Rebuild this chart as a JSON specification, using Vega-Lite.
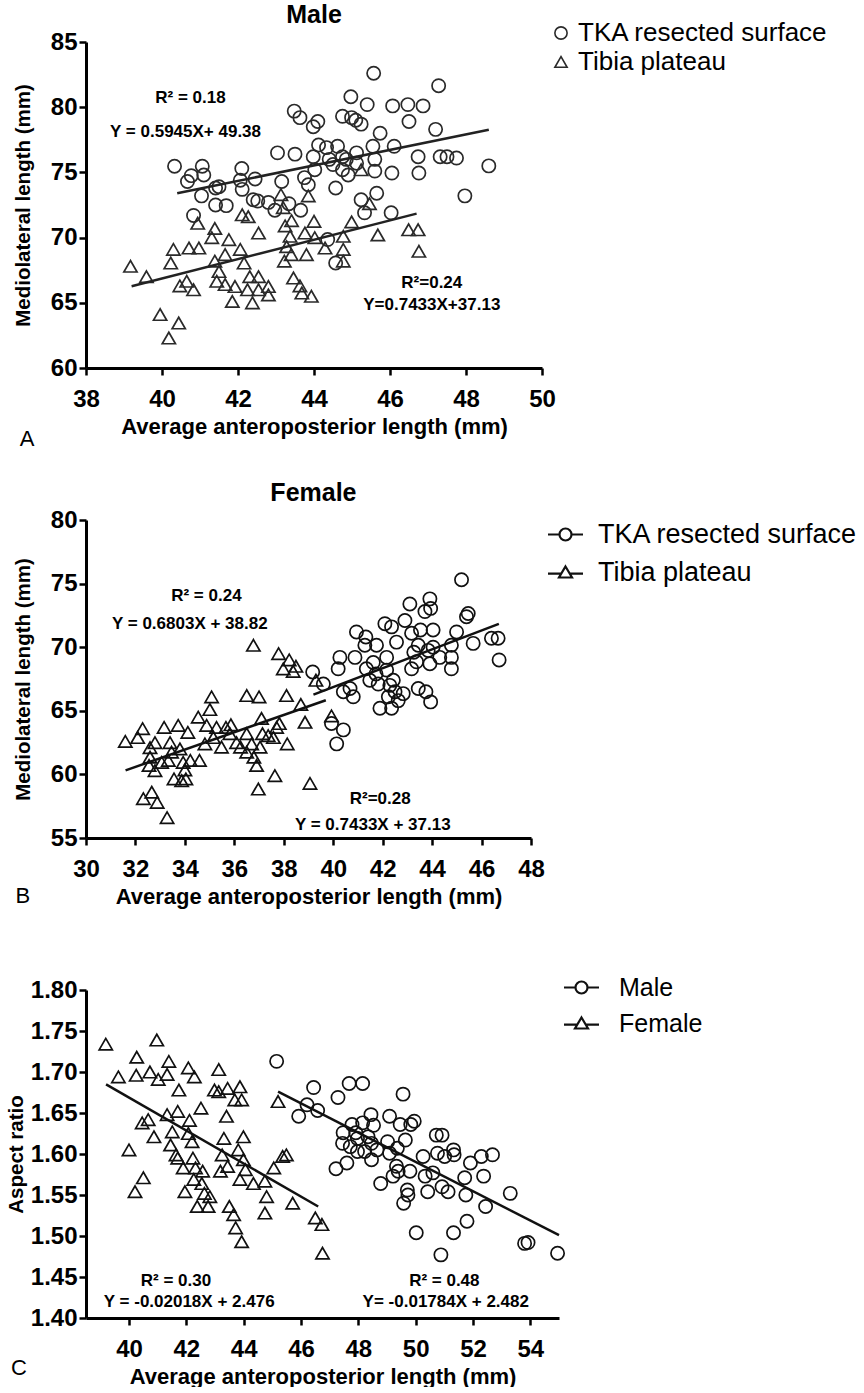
{
  "$schema": "https://vega.github.io/schema/vega-lite/v6.json",
  "background": "white",
  "padding": {"left": 6, "top": 3, "right": 0, "bottom": 0},
  "config": {
    "view": {"stroke": null},
    "font": "Liberation Sans",
    "axis": {"domainColor": "black", "domainWidth": 3, "tickColor": "black", "tickWidth": 2.5, "tickSize": 7, "labelFont": "Liberation Sans", "labelFontWeight": "bold", "labelFontSize": 24, "labelColor": "black", "titleFont": "Liberation Sans", "titleFontWeight": "bold", "titleColor": "black", "grid": false, "labelFlush": false, "labelOverlap": false},
    "axisX": {"labelPadding": 12, "titlePadding": 5, "titleFontSize": 22},
    "axisY": {"labelPadding": 2, "titleFontSize": 20.5},
    "legend": {"labelFont": "Liberation Sans", "labelColor": "black", "labelFontWeight": "normal", "labelLimit": 0}
  },
  "datasets": {
    "ptsA": [
      {"g":"TKA resected surface","x":40.33,"y":75.47},{"g":"TKA resected surface","x":40.67,"y":74.3},{"g":"TKA resected surface","x":40.77,"y":74.75},{"g":"TKA resected surface","x":41.06,"y":75.47},{"g":"TKA resected surface","x":41.1,"y":74.8},{"g":"TKA resected surface","x":41.04,"y":73.2},{"g":"TKA resected surface","x":40.83,"y":71.7},{"g":"TKA resected surface","x":41.41,"y":73.8},{"g":"TKA resected surface","x":41.5,"y":73.9},{"g":"TKA resected surface","x":41.41,"y":72.5},{"g":"TKA resected surface","x":41.69,"y":72.45},{"g":"TKA resected surface","x":42.1,"y":75.3},{"g":"TKA resected surface","x":42.06,"y":74.4},{"g":"TKA resected surface","x":42.11,"y":73.7},{"g":"TKA resected surface","x":42.45,"y":74.5},{"g":"TKA resected surface","x":42.4,"y":72.9},{"g":"TKA resected surface","x":42.52,"y":72.8},{"g":"TKA resected surface","x":42.8,"y":72.7},{"g":"TKA resected surface","x":42.97,"y":72.1},{"g":"TKA resected surface","x":43.04,"y":76.5},{"g":"TKA resected surface","x":43.15,"y":74.3},{"g":"TKA resected surface","x":43.5,"y":76.4},{"g":"TKA resected surface","x":43.34,"y":72.6},{"g":"TKA resected surface","x":43.48,"y":79.7},{"g":"TKA resected surface","x":43.63,"y":79.2},{"g":"TKA resected surface","x":43.65,"y":72.1},{"g":"TKA resected surface","x":43.75,"y":74.6},{"g":"TKA resected surface","x":43.85,"y":74.05},{"g":"TKA resected surface","x":43.98,"y":78.5},{"g":"TKA resected surface","x":44.1,"y":78.9},{"g":"TKA resected surface","x":44.12,"y":77.1},{"g":"TKA resected surface","x":43.98,"y":76.2},{"g":"TKA resected surface","x":44.02,"y":75.2},{"g":"TKA resected surface","x":44.33,"y":76.9},{"g":"TKA resected surface","x":44.4,"y":76.0},{"g":"TKA resected surface","x":44.57,"y":73.8},{"g":"TKA resected surface","x":44.62,"y":77.0},{"g":"TKA resected surface","x":44.75,"y":79.3},{"g":"TKA resected surface","x":44.75,"y":76.2},{"g":"TKA resected surface","x":44.75,"y":75.2},{"g":"TKA resected surface","x":44.97,"y":80.8},{"g":"TKA resected surface","x":44.99,"y":79.2},{"g":"TKA resected surface","x":45.1,"y":79.0},{"g":"TKA resected surface","x":45.24,"y":78.7},{"g":"TKA resected surface","x":44.9,"y":74.8},{"g":"TKA resected surface","x":45.12,"y":76.5},{"g":"TKA resected surface","x":45.12,"y":75.7},{"g":"TKA resected surface","x":45.4,"y":80.2},{"g":"TKA resected surface","x":45.57,"y":82.6},{"g":"TKA resected surface","x":45.55,"y":77.0},{"g":"TKA resected surface","x":45.6,"y":76.0},{"g":"TKA resected surface","x":45.74,"y":78.0},{"g":"TKA resected surface","x":45.6,"y":75.1},{"g":"TKA resected surface","x":45.65,"y":73.4},{"g":"TKA resected surface","x":45.24,"y":72.9},{"g":"TKA resected surface","x":45.33,"y":71.9},{"g":"TKA resected surface","x":46.03,"y":71.9},{"g":"TKA resected surface","x":46.07,"y":80.1},{"g":"TKA resected surface","x":46.11,"y":77.0},{"g":"TKA resected surface","x":46.05,"y":74.95},{"g":"TKA resected surface","x":46.47,"y":80.2},{"g":"TKA resected surface","x":46.5,"y":78.9},{"g":"TKA resected surface","x":46.74,"y":76.2},{"g":"TKA resected surface","x":46.76,"y":74.95},{"g":"TKA resected surface","x":46.87,"y":80.1},{"g":"TKA resected surface","x":47.2,"y":78.3},{"g":"TKA resected surface","x":47.28,"y":81.65},{"g":"TKA resected surface","x":47.32,"y":76.2},{"g":"TKA resected surface","x":47.5,"y":76.2},{"g":"TKA resected surface","x":47.75,"y":76.1},{"g":"TKA resected surface","x":47.97,"y":73.2},{"g":"TKA resected surface","x":48.6,"y":75.5},{"g":"TKA resected surface","x":44.36,"y":69.85},{"g":"TKA resected surface","x":44.57,"y":68.05},{"g":"TKA resected surface","x":44.5,"y":75.6},{"g":"TKA resected surface","x":44.85,"y":76.0},
      {"g":"Tibia plateau","x":39.17,"y":67.8},{"g":"Tibia plateau","x":39.59,"y":67.0},{"g":"Tibia plateau","x":39.95,"y":64.1},{"g":"Tibia plateau","x":40.18,"y":62.3},{"g":"Tibia plateau","x":40.44,"y":63.45},{"g":"Tibia plateau","x":40.3,"y":69.1},{"g":"Tibia plateau","x":40.23,"y":68.05},{"g":"Tibia plateau","x":40.47,"y":66.3},{"g":"Tibia plateau","x":40.65,"y":66.65},{"g":"Tibia plateau","x":40.83,"y":66.0},{"g":"Tibia plateau","x":40.71,"y":69.2},{"g":"Tibia plateau","x":40.94,"y":71.1},{"g":"Tibia plateau","x":40.97,"y":69.2},{"g":"Tibia plateau","x":41.31,"y":70.0},{"g":"Tibia plateau","x":41.39,"y":70.7},{"g":"Tibia plateau","x":41.39,"y":68.2},{"g":"Tibia plateau","x":41.5,"y":67.4},{"g":"Tibia plateau","x":41.44,"y":66.65},{"g":"Tibia plateau","x":41.66,"y":66.4},{"g":"Tibia plateau","x":41.76,"y":69.85},{"g":"Tibia plateau","x":41.66,"y":68.7},{"g":"Tibia plateau","x":41.85,"y":65.1},{"g":"Tibia plateau","x":41.92,"y":66.25},{"g":"Tibia plateau","x":42.06,"y":69.1},{"g":"Tibia plateau","x":42.11,"y":71.75},{"g":"Tibia plateau","x":42.16,"y":68.05},{"g":"Tibia plateau","x":42.27,"y":71.6},{"g":"Tibia plateau","x":42.31,"y":67.0},{"g":"Tibia plateau","x":42.25,"y":66.0},{"g":"Tibia plateau","x":42.38,"y":65.0},{"g":"Tibia plateau","x":42.54,"y":67.0},{"g":"Tibia plateau","x":42.54,"y":66.0},{"g":"Tibia plateau","x":42.54,"y":70.35},{"g":"Tibia plateau","x":42.8,"y":66.25},{"g":"Tibia plateau","x":42.8,"y":65.6},{"g":"Tibia plateau","x":43.13,"y":73.3},{"g":"Tibia plateau","x":43.19,"y":72.3},{"g":"Tibia plateau","x":43.24,"y":70.9},{"g":"Tibia plateau","x":43.22,"y":68.2},{"g":"Tibia plateau","x":43.28,"y":69.3},{"g":"Tibia plateau","x":43.37,"y":70.1},{"g":"Tibia plateau","x":43.41,"y":71.3},{"g":"Tibia plateau","x":43.4,"y":68.7},{"g":"Tibia plateau","x":43.46,"y":66.9},{"g":"Tibia plateau","x":43.63,"y":66.3},{"g":"Tibia plateau","x":43.68,"y":65.75},{"g":"Tibia plateau","x":43.76,"y":70.35},{"g":"Tibia plateau","x":43.8,"y":68.7},{"g":"Tibia plateau","x":43.85,"y":73.2},{"g":"Tibia plateau","x":43.93,"y":65.5},{"g":"Tibia plateau","x":44.0,"y":71.25},{"g":"Tibia plateau","x":44.02,"y":70.0},{"g":"Tibia plateau","x":44.29,"y":69.2},{"g":"Tibia plateau","x":44.77,"y":70.1},{"g":"Tibia plateau","x":44.77,"y":69.1},{"g":"Tibia plateau","x":44.77,"y":68.2},{"g":"Tibia plateau","x":44.99,"y":71.2},{"g":"Tibia plateau","x":45.24,"y":75.2},{"g":"Tibia plateau","x":45.46,"y":72.6},{"g":"Tibia plateau","x":45.68,"y":70.2},{"g":"Tibia plateau","x":46.49,"y":70.6},{"g":"Tibia plateau","x":46.74,"y":70.6},{"g":"Tibia plateau","x":46.76,"y":68.95}
    ],
    "fitA": [
      {"g":"TKA resected surface","x":40.4,"y":73.4},{"g":"TKA resected surface","x":48.6,"y":78.27},
      {"g":"Tibia plateau","x":39.2,"y":66.27},{"g":"Tibia plateau","x":46.7,"y":71.84}
    ],
    "ptsB": [
      {"g":"Tibia plateau","x":31.59,"y":62.6},{"g":"Tibia plateau","x":32.09,"y":62.9},{"g":"Tibia plateau","x":32.29,"y":63.6},{"g":"Tibia plateau","x":32.32,"y":58.1},{"g":"Tibia plateau","x":32.66,"y":58.6},{"g":"Tibia plateau","x":32.59,"y":62.1},{"g":"Tibia plateau","x":32.79,"y":62.5},{"g":"Tibia plateau","x":32.59,"y":61.35},{"g":"Tibia plateau","x":32.55,"y":60.7},{"g":"Tibia plateau","x":32.79,"y":60.3},{"g":"Tibia plateau","x":32.88,"y":57.8},{"g":"Tibia plateau","x":33.28,"y":56.6},{"g":"Tibia plateau","x":33.16,"y":63.7},{"g":"Tibia plateau","x":33.06,"y":60.95},{"g":"Tibia plateau","x":33.33,"y":61.1},{"g":"Tibia plateau","x":33.4,"y":62.5},{"g":"Tibia plateau","x":33.46,"y":61.75},{"g":"Tibia plateau","x":33.56,"y":59.65},{"g":"Tibia plateau","x":33.73,"y":63.85},{"g":"Tibia plateau","x":33.87,"y":59.5},{"g":"Tibia plateau","x":33.8,"y":62.0},{"g":"Tibia plateau","x":33.93,"y":60.95},{"g":"Tibia plateau","x":34.0,"y":60.35},{"g":"Tibia plateau","x":34.04,"y":59.65},{"g":"Tibia plateau","x":34.12,"y":63.3},{"g":"Tibia plateau","x":34.22,"y":61.1},{"g":"Tibia plateau","x":34.59,"y":61.1},{"g":"Tibia plateau","x":34.54,"y":64.5},{"g":"Tibia plateau","x":34.81,"y":62.4},{"g":"Tibia plateau","x":34.88,"y":63.85},{"g":"Tibia plateau","x":35.01,"y":65.1},{"g":"Tibia plateau","x":35.08,"y":66.1},{"g":"Tibia plateau","x":35.15,"y":62.9},{"g":"Tibia plateau","x":35.28,"y":63.7},{"g":"Tibia plateau","x":35.48,"y":62.15},{"g":"Tibia plateau","x":35.66,"y":63.7},{"g":"Tibia plateau","x":35.82,"y":63.2},{"g":"Tibia plateau","x":35.86,"y":63.9},{"g":"Tibia plateau","x":36.09,"y":62.5},{"g":"Tibia plateau","x":36.25,"y":62.15},{"g":"Tibia plateau","x":36.5,"y":66.2},{"g":"Tibia plateau","x":36.5,"y":63.2},{"g":"Tibia plateau","x":36.5,"y":61.75},{"g":"Tibia plateau","x":36.7,"y":62.4},{"g":"Tibia plateau","x":36.77,"y":70.15},{"g":"Tibia plateau","x":36.79,"y":61.35},{"g":"Tibia plateau","x":36.9,"y":60.7},{"g":"Tibia plateau","x":36.97,"y":58.85},{"g":"Tibia plateau","x":37.0,"y":66.1},{"g":"Tibia plateau","x":37.04,"y":62.15},{"g":"Tibia plateau","x":37.1,"y":64.4},{"g":"Tibia plateau","x":37.14,"y":63.2},{"g":"Tibia plateau","x":37.37,"y":63.05},{"g":"Tibia plateau","x":37.58,"y":62.9},{"g":"Tibia plateau","x":37.64,"y":59.9},{"g":"Tibia plateau","x":37.71,"y":63.7},{"g":"Tibia plateau","x":37.82,"y":64.0},{"g":"Tibia plateau","x":37.79,"y":69.5},{"g":"Tibia plateau","x":37.98,"y":68.3},{"g":"Tibia plateau","x":38.11,"y":66.2},{"g":"Tibia plateau","x":38.14,"y":62.4},{"g":"Tibia plateau","x":38.22,"y":69.0},{"g":"Tibia plateau","x":38.38,"y":68.1},{"g":"Tibia plateau","x":38.49,"y":68.5},{"g":"Tibia plateau","x":38.69,"y":65.5},{"g":"Tibia plateau","x":38.86,"y":64.1},{"g":"Tibia plateau","x":39.06,"y":59.3},{"g":"Tibia plateau","x":39.3,"y":67.4},{"g":"Tibia plateau","x":39.93,"y":64.6},
      {"g":"TKA resected surface","x":39.17,"y":68.05},{"g":"TKA resected surface","x":39.6,"y":67.1},{"g":"TKA resected surface","x":39.93,"y":64.0},{"g":"TKA resected surface","x":40.14,"y":62.4},{"g":"TKA resected surface","x":40.41,"y":63.5},{"g":"TKA resected surface","x":40.27,"y":69.2},{"g":"TKA resected surface","x":40.2,"y":68.3},{"g":"TKA resected surface","x":40.41,"y":66.5},{"g":"TKA resected surface","x":40.68,"y":66.75},{"g":"TKA resected surface","x":40.81,"y":66.1},{"g":"TKA resected surface","x":40.88,"y":69.2},{"g":"TKA resected surface","x":40.94,"y":71.2},{"g":"TKA resected surface","x":41.28,"y":70.15},{"g":"TKA resected surface","x":41.32,"y":70.8},{"g":"TKA resected surface","x":41.34,"y":68.3},{"g":"TKA resected surface","x":41.48,"y":67.4},{"g":"TKA resected surface","x":41.62,"y":68.8},{"g":"TKA resected surface","x":41.75,"y":70.15},{"g":"TKA resected surface","x":41.73,"y":67.9},{"g":"TKA resected surface","x":41.82,"y":67.1},{"g":"TKA resected surface","x":41.89,"y":65.2},{"g":"TKA resected surface","x":42.09,"y":71.85},{"g":"TKA resected surface","x":42.16,"y":69.2},{"g":"TKA resected surface","x":42.16,"y":68.2},{"g":"TKA resected surface","x":42.23,"y":66.1},{"g":"TKA resected surface","x":42.36,"y":71.6},{"g":"TKA resected surface","x":42.29,"y":67.0},{"g":"TKA resected surface","x":42.43,"y":67.4},{"g":"TKA resected surface","x":42.5,"y":66.5},{"g":"TKA resected surface","x":42.56,"y":70.4},{"g":"TKA resected surface","x":42.63,"y":65.8},{"g":"TKA resected surface","x":42.36,"y":65.2},{"g":"TKA resected surface","x":42.83,"y":66.35},{"g":"TKA resected surface","x":42.9,"y":72.1},{"g":"TKA resected surface","x":43.1,"y":73.4},{"g":"TKA resected surface","x":43.17,"y":71.1},{"g":"TKA resected surface","x":43.17,"y":68.3},{"g":"TKA resected surface","x":43.26,"y":69.6},{"g":"TKA resected surface","x":43.37,"y":68.85},{"g":"TKA resected surface","x":43.44,"y":70.15},{"g":"TKA resected surface","x":43.44,"y":66.75},{"g":"TKA resected surface","x":43.53,"y":71.35},{"g":"TKA resected surface","x":43.71,"y":72.8},{"g":"TKA resected surface","x":43.75,"y":66.5},{"g":"TKA resected surface","x":43.91,"y":73.8},{"g":"TKA resected surface","x":43.94,"y":73.05},{"g":"TKA resected surface","x":43.91,"y":68.7},{"g":"TKA resected surface","x":43.94,"y":65.7},{"g":"TKA resected surface","x":43.84,"y":69.75},{"g":"TKA resected surface","x":44.04,"y":71.35},{"g":"TKA resected surface","x":44.04,"y":70.0},{"g":"TKA resected surface","x":44.31,"y":69.2},{"g":"TKA resected surface","x":44.78,"y":68.3},{"g":"TKA resected surface","x":44.78,"y":69.2},{"g":"TKA resected surface","x":44.78,"y":70.15},{"g":"TKA resected surface","x":44.99,"y":71.2},{"g":"TKA resected surface","x":45.19,"y":75.3},{"g":"TKA resected surface","x":45.39,"y":72.4},{"g":"TKA resected surface","x":45.46,"y":72.65},{"g":"TKA resected surface","x":45.66,"y":70.3},{"g":"TKA resected surface","x":46.4,"y":70.7},{"g":"TKA resected surface","x":46.67,"y":70.7},{"g":"TKA resected surface","x":46.71,"y":69.0}
    ],
    "fitB": [
      {"g":"Tibia plateau","x":31.6,"y":60.32},{"g":"Tibia plateau","x":39.7,"y":65.83},
      {"g":"TKA resected surface","x":39.2,"y":66.27},{"g":"TKA resected surface","x":46.7,"y":71.84}
    ],
    "ptsC": [
      {"g":"Female","x":39.19,"y":1.734},{"g":"Female","x":39.63,"y":1.694},{"g":"Female","x":40.27,"y":1.718},{"g":"Female","x":40.25,"y":1.696},{"g":"Female","x":40.21,"y":1.554},{"g":"Female","x":40.0,"y":1.605},{"g":"Female","x":40.5,"y":1.571},{"g":"Female","x":40.46,"y":1.638},{"g":"Female","x":40.67,"y":1.642},{"g":"Female","x":40.73,"y":1.7},{"g":"Female","x":40.87,"y":1.621},{"g":"Female","x":40.97,"y":1.739},{"g":"Female","x":41.02,"y":1.691},{"g":"Female","x":41.33,"y":1.697},{"g":"Female","x":41.39,"y":1.713},{"g":"Female","x":41.33,"y":1.648},{"g":"Female","x":41.51,"y":1.627},{"g":"Female","x":41.45,"y":1.611},{"g":"Female","x":41.64,"y":1.599},{"g":"Female","x":41.7,"y":1.652},{"g":"Female","x":41.74,"y":1.678},{"g":"Female","x":41.7,"y":1.595},{"g":"Female","x":41.89,"y":1.583},{"g":"Female","x":41.95,"y":1.554},{"g":"Female","x":42.07,"y":1.705},{"g":"Female","x":42.11,"y":1.641},{"g":"Female","x":42.07,"y":1.625},{"g":"Female","x":42.2,"y":1.615},{"g":"Female","x":42.28,"y":1.694},{"g":"Female","x":42.23,"y":1.595},{"g":"Female","x":42.32,"y":1.583},{"g":"Female","x":42.26,"y":1.569},{"g":"Female","x":42.38,"y":1.536},{"g":"Female","x":42.51,"y":1.656},{"g":"Female","x":42.57,"y":1.579},{"g":"Female","x":42.54,"y":1.564},{"g":"Female","x":42.63,"y":1.552},{"g":"Female","x":42.76,"y":1.536},{"g":"Female","x":42.82,"y":1.548},{"g":"Female","x":42.98,"y":1.678},{"g":"Female","x":43.13,"y":1.703},{"g":"Female","x":43.13,"y":1.676},{"g":"Female","x":43.19,"y":1.579},{"g":"Female","x":43.25,"y":1.599},{"g":"Female","x":43.31,"y":1.619},{"g":"Female","x":43.4,"y":1.646},{"g":"Female","x":43.44,"y":1.68},{"g":"Female","x":43.44,"y":1.585},{"g":"Female","x":43.5,"y":1.536},{"g":"Female","x":43.65,"y":1.526},{"g":"Female","x":43.69,"y":1.666},{"g":"Female","x":43.87,"y":1.682},{"g":"Female","x":43.93,"y":1.666},{"g":"Female","x":43.81,"y":1.605},{"g":"Female","x":43.99,"y":1.621},{"g":"Female","x":43.99,"y":1.593},{"g":"Female","x":43.87,"y":1.569},{"g":"Female","x":43.72,"y":1.51},{"g":"Female","x":43.93,"y":1.493},{"g":"Female","x":44.06,"y":1.581},{"g":"Female","x":44.34,"y":1.564},{"g":"Female","x":44.74,"y":1.567},{"g":"Female","x":44.8,"y":1.548},{"g":"Female","x":44.74,"y":1.528},{"g":"Female","x":45.05,"y":1.583},{"g":"Female","x":45.36,"y":1.597},{"g":"Female","x":45.49,"y":1.599},{"g":"Female","x":45.2,"y":1.664},{"g":"Female","x":45.71,"y":1.54},{"g":"Female","x":46.5,"y":1.522},{"g":"Female","x":46.73,"y":1.514},{"g":"Female","x":46.75,"y":1.479},
      {"g":"Male","x":45.15,"y":1.713},{"g":"Male","x":45.92,"y":1.646},{"g":"Male","x":46.21,"y":1.66},{"g":"Male","x":46.44,"y":1.681},{"g":"Male","x":46.58,"y":1.653},{"g":"Male","x":47.22,"y":1.582},{"g":"Male","x":47.29,"y":1.669},{"g":"Male","x":47.47,"y":1.626},{"g":"Male","x":47.45,"y":1.613},{"g":"Male","x":47.6,"y":1.589},{"g":"Male","x":47.68,"y":1.686},{"g":"Male","x":47.78,"y":1.636},{"g":"Male","x":47.72,"y":1.609},{"g":"Male","x":47.91,"y":1.626},{"g":"Male","x":47.97,"y":1.619},{"g":"Male","x":47.97,"y":1.603},{"g":"Male","x":48.15,"y":1.686},{"g":"Male","x":48.15,"y":1.638},{"g":"Male","x":48.22,"y":1.603},{"g":"Male","x":48.34,"y":1.621},{"g":"Male","x":48.44,"y":1.648},{"g":"Male","x":48.46,"y":1.613},{"g":"Male","x":48.46,"y":1.593},{"g":"Male","x":48.53,"y":1.635},{"g":"Male","x":48.65,"y":1.605},{"g":"Male","x":48.78,"y":1.564},{"g":"Male","x":49.09,"y":1.646},{"g":"Male","x":49.02,"y":1.615},{"g":"Male","x":49.09,"y":1.601},{"g":"Male","x":49.21,"y":1.573},{"g":"Male","x":49.33,"y":1.585},{"g":"Male","x":49.36,"y":1.607},{"g":"Male","x":49.39,"y":1.579},{"g":"Male","x":49.46,"y":1.636},{"g":"Male","x":49.56,"y":1.673},{"g":"Male","x":49.58,"y":1.54},{"g":"Male","x":49.64,"y":1.617},{"g":"Male","x":49.71,"y":1.556},{"g":"Male","x":49.73,"y":1.55},{"g":"Male","x":49.8,"y":1.579},{"g":"Male","x":49.83,"y":1.636},{"g":"Male","x":49.95,"y":1.64},{"g":"Male","x":50.02,"y":1.504},{"g":"Male","x":50.26,"y":1.597},{"g":"Male","x":50.33,"y":1.573},{"g":"Male","x":50.42,"y":1.554},{"g":"Male","x":50.6,"y":1.577},{"g":"Male","x":50.72,"y":1.623},{"g":"Male","x":50.76,"y":1.601},{"g":"Male","x":50.88,"y":1.477},{"g":"Male","x":50.92,"y":1.623},{"g":"Male","x":50.92,"y":1.56},{"g":"Male","x":51.01,"y":1.597},{"g":"Male","x":51.13,"y":1.554},{"g":"Male","x":51.32,"y":1.504},{"g":"Male","x":51.32,"y":1.605},{"g":"Male","x":51.34,"y":1.599},{"g":"Male","x":51.71,"y":1.571},{"g":"Male","x":51.75,"y":1.55},{"g":"Male","x":51.79,"y":1.518},{"g":"Male","x":51.91,"y":1.589},{"g":"Male","x":52.29,"y":1.597},{"g":"Male","x":52.37,"y":1.573},{"g":"Male","x":52.44,"y":1.536},{"g":"Male","x":52.68,"y":1.599},{"g":"Male","x":53.3,"y":1.552},{"g":"Male","x":53.8,"y":1.491},{"g":"Male","x":53.92,"y":1.492},{"g":"Male","x":54.95,"y":1.479}
    ],
    "fitC": [
      {"g":"Female","x":39.2,"y":1.685},{"g":"Female","x":46.6,"y":1.536},
      {"g":"Male","x":45.2,"y":1.676},{"g":"Male","x":55.0,"y":1.501}
    ]
  },
  "vconcat": [
    {
      "width": 456, "height": 326,
      "layer": [
        {"data": {"name": "ptsA"}, "mark": {"type": "point", "filled": false, "stroke": "#2a2a2a", "strokeWidth": 1.7, "size": 175, "opacity": 1},
         "encoding": {
           "x": {"field": "x", "type": "quantitative", "scale": {"domain": [38, 50], "nice": false, "zero": false}, "title": "Average  anteroposterior length (mm)", "axis": {"values": [38, 40, 42, 44, 46, 48, 50]}},
           "y": {"field": "y", "type": "quantitative", "scale": {"domain": [60, 85], "nice": false, "zero": false}, "title": "Mediolateral length (mm)", "axis": {"values": [60, 65, 70, 75, 80, 85], "titlePadding": 17}},
           "shape": {"field": "g", "type": "nominal", "scale": {"domain": ["TKA resected surface", "Tibia plateau"], "range": ["circle", "triangle-up"]},
             "legend": {"title": null, "orient": "none", "legendX": 462, "legendY": -22, "labelFontSize": 26, "labelOffset": 4, "rowPadding": 3, "symbolSize": 150, "symbolStrokeWidth": 1.6, "symbolStrokeColor": "#2a2a2a", "symbolFillColor": "white"}}}},
        {"data": {"name": "fitA"}, "mark": {"type": "line", "color": "#222", "strokeWidth": 2.5},
         "encoding": {"x": {"field": "x", "type": "quantitative", "title": "Average  anteroposterior length (mm)"}, "y": {"field": "y", "type": "quantitative", "title": "Mediolateral length (mm)"}, "detail": {"field": "g"}}},
        {"data": {"values": [{}]}, "mark": {"type": "text", "text": "Male", "fontWeight": "bold", "fontSize": 25}, "encoding": {"x": {"datum": 44, "type": "quantitative", "title": "Average  anteroposterior length (mm)"}, "y": {"datum": 87.07, "type": "quantitative", "title": "Mediolateral length (mm)"}}},
        {"data": {"values": [{}]}, "mark": {"type": "text", "text": "R² = 0.18", "fontWeight": "bold", "fontSize": 17}, "encoding": {"x": {"datum": 40.75, "type": "quantitative", "title": "Average  anteroposterior length (mm)"}, "y": {"datum": 80.7, "type": "quantitative", "title": "Mediolateral length (mm)"}}},
        {"data": {"values": [{}]}, "mark": {"type": "text", "text": "Y = 0.5945X+ 49.38", "fontWeight": "bold", "fontSize": 17}, "encoding": {"x": {"datum": 40.62, "type": "quantitative", "title": "Average  anteroposterior length (mm)"}, "y": {"datum": 78.1, "type": "quantitative", "title": "Mediolateral length (mm)"}}},
        {"data": {"values": [{}]}, "mark": {"type": "text", "text": "R²=0.24", "fontWeight": "bold", "fontSize": 17}, "encoding": {"x": {"datum": 47.1, "type": "quantitative", "title": "Average  anteroposterior length (mm)"}, "y": {"datum": 66.5, "type": "quantitative", "title": "Mediolateral length (mm)"}}},
        {"data": {"values": [{}]}, "mark": {"type": "text", "text": "Y=0.7433X+37.13", "fontWeight": "bold", "fontSize": 17}, "encoding": {"x": {"datum": 47.1, "type": "quantitative", "title": "Average  anteroposterior length (mm)"}, "y": {"datum": 64.85, "type": "quantitative", "title": "Mediolateral length (mm)"}}},
        {"data": {"values": [{}]}, "mark": {"type": "text", "text": "A", "fontSize": 22}, "encoding": {"x": {"datum": 36.45, "type": "quantitative", "title": "Average  anteroposterior length (mm)"}, "y": {"datum": 54.55, "type": "quantitative", "title": "Mediolateral length (mm)"}}}
      ]
    },
    {
      "width": 445, "height": 318,
      "layer": [
        {"data": {"name": "ptsB"}, "mark": {"type": "point", "filled": false, "stroke": "#111", "strokeWidth": 1.7, "size": 175, "opacity": 1},
         "encoding": {
           "x": {"field": "x", "type": "quantitative", "scale": {"domain": [30, 48], "nice": false, "zero": false}, "title": "Average  anteroposterior length (mm)", "axis": {"values": [30, 32, 34, 36, 38, 40, 42, 44, 46, 48]}},
           "y": {"field": "y", "type": "quantitative", "scale": {"domain": [55, 80], "nice": false, "zero": false}, "title": "Mediolateral length (mm)", "axis": {"values": [55, 60, 65, 70, 75, 80], "titlePadding": 17}},
           "shape": {"field": "g", "type": "nominal", "scale": {"domain": ["TKA resected surface", "Tibia plateau"], "range": ["circle", "triangle-up"]}, "legend": null}}},
        {"data": {"values": []}, "mark": {"type": "point", "filled": false, "stroke": "#111", "strokeWidth": 2.2, "opacity": 1},
         "encoding": {"shape": {"field": "g", "type": "nominal", "scale": {"domain": ["TKA resected surface", "Tibia plateau"], "range": ["M-1.75,0L-0.6,0M0.6,0A0.6,0.6,0,1,1,-0.6,0A0.6,0.6,0,1,1,0.6,0M0.6,0L1.75,0", "M-1.75,0.12L-0.425,0.12M0.425,0.12L1.75,0.12M0,-0.6L0.65,0.5L-0.65,0.5Z"]},
           "legend": {"title": null, "orient": "none", "legendX": 466, "legendY": 1, "labelFontSize": 27, "labelOffset": 19, "rowPadding": 10, "symbolSize": 400, "symbolStrokeWidth": 2.2, "symbolStrokeColor": "#111", "symbolFillColor": "white"}}}},
        {"data": {"name": "fitB"}, "mark": {"type": "line", "color": "#111", "strokeWidth": 2.5},
         "encoding": {"x": {"field": "x", "type": "quantitative", "title": "Average  anteroposterior length (mm)"}, "y": {"field": "y", "type": "quantitative", "title": "Mediolateral length (mm)"}, "detail": {"field": "g"}}},
        {"data": {"values": [{}]}, "mark": {"type": "text", "text": "Female", "fontWeight": "bold", "fontSize": 25}, "encoding": {"x": {"datum": 39.2, "type": "quantitative", "title": "Average  anteroposterior length (mm)"}, "y": {"datum": 82.12, "type": "quantitative", "title": "Mediolateral length (mm)"}}},
        {"data": {"values": [{}]}, "mark": {"type": "text", "text": "R² = 0.24", "fontWeight": "bold", "fontSize": 17}, "encoding": {"x": {"datum": 34.87, "type": "quantitative", "title": "Average  anteroposterior length (mm)"}, "y": {"datum": 74.05, "type": "quantitative", "title": "Mediolateral length (mm)"}}},
        {"data": {"values": [{}]}, "mark": {"type": "text", "text": "Y = 0.6803X + 38.82", "fontWeight": "bold", "fontSize": 17}, "encoding": {"x": {"datum": 34.2, "type": "quantitative", "title": "Average  anteroposterior length (mm)"}, "y": {"datum": 71.86, "type": "quantitative", "title": "Mediolateral length (mm)"}}},
        {"data": {"values": [{}]}, "mark": {"type": "text", "text": "R²=0.28", "fontWeight": "bold", "fontSize": 17}, "encoding": {"x": {"datum": 41.9, "type": "quantitative", "title": "Average  anteroposterior length (mm)"}, "y": {"datum": 58.1, "type": "quantitative", "title": "Mediolateral length (mm)"}}},
        {"data": {"values": [{}]}, "mark": {"type": "text", "text": "Y = 0.7433X + 37.13", "fontWeight": "bold", "fontSize": 17}, "encoding": {"x": {"datum": 41.6, "type": "quantitative", "title": "Average  anteroposterior length (mm)"}, "y": {"datum": 56.05, "type": "quantitative", "title": "Mediolateral length (mm)"}}},
        {"data": {"values": [{}]}, "mark": {"type": "text", "text": "B", "fontSize": 22}, "encoding": {"x": {"datum": 27.45, "type": "quantitative", "title": "Average  anteroposterior length (mm)"}, "y": {"datum": 50.44, "type": "quantitative", "title": "Mediolateral length (mm)"}}}
      ],
      "resolve": {"scale": {"shape": "independent"}, "legend": {"shape": "independent"}}
    },
    {
      "width": 473, "height": 328,
      "layer": [
        {"data": {"name": "ptsC"}, "mark": {"type": "point", "filled": false, "stroke": "#111", "strokeWidth": 1.7, "size": 175, "opacity": 1},
         "encoding": {
           "x": {"field": "x", "type": "quantitative", "scale": {"domain": [38.5, 55], "nice": false, "zero": false}, "title": "Average  anteroposterior length (mm)", "axis": {"values": [40, 42, 44, 46, 48, 50, 52, 54]}},
           "y": {"field": "y", "type": "quantitative", "scale": {"domain": [1.4, 1.8], "nice": false, "zero": false}, "title": "Aspect ratio", "axis": {"values": [1.4, 1.45, 1.5, 1.55, 1.6, 1.65, 1.7, 1.75, 1.8], "format": ".2f", "titlePadding": 4}},
           "shape": {"field": "g", "type": "nominal", "scale": {"domain": ["Male", "Female"], "range": ["circle", "triangle-up"]}, "legend": null}}},
        {"data": {"values": []}, "mark": {"type": "point", "filled": false, "stroke": "#111", "strokeWidth": 2.2, "opacity": 1},
         "encoding": {"shape": {"field": "g", "type": "nominal", "scale": {"domain": ["Male", "Female"], "range": ["M-1.75,0L-0.6,0M0.6,0A0.6,0.6,0,1,1,-0.6,0A0.6,0.6,0,1,1,0.6,0M0.6,0L1.75,0", "M-1.75,0.12L-0.425,0.12M0.425,0.12L1.75,0.12M0,-0.6L0.65,0.5L-0.65,0.5Z"]},
           "legend": {"title": null, "orient": "none", "legendX": 483, "legendY": -15, "labelFontSize": 25, "labelOffset": 25, "rowPadding": 10, "symbolSize": 400, "symbolStrokeWidth": 2.2, "symbolStrokeColor": "#111", "symbolFillColor": "white"}}}},
        {"data": {"name": "fitC"}, "mark": {"type": "line", "color": "#111", "strokeWidth": 2.5},
         "encoding": {"x": {"field": "x", "type": "quantitative", "title": "Average  anteroposterior length (mm)"}, "y": {"field": "y", "type": "quantitative", "title": "Aspect ratio"}, "detail": {"field": "g"}}},
        {"data": {"values": [{}]}, "mark": {"type": "text", "text": "R² = 0.30", "fontWeight": "bold", "fontSize": 17}, "encoding": {"x": {"datum": 41.64, "type": "quantitative", "title": "Average  anteroposterior length (mm)"}, "y": {"datum": 1.445, "type": "quantitative", "title": "Aspect ratio"}}},
        {"data": {"values": [{}]}, "mark": {"type": "text", "text": "Y = -0.02018X + 2.476", "fontWeight": "bold", "fontSize": 17}, "encoding": {"x": {"datum": 42.1, "type": "quantitative", "title": "Average  anteroposterior length (mm)"}, "y": {"datum": 1.419, "type": "quantitative", "title": "Aspect ratio"}}},
        {"data": {"values": [{}]}, "mark": {"type": "text", "text": "R² = 0.48", "fontWeight": "bold", "fontSize": 17}, "encoding": {"x": {"datum": 51.0, "type": "quantitative", "title": "Average  anteroposterior length (mm)"}, "y": {"datum": 1.445, "type": "quantitative", "title": "Aspect ratio"}}},
        {"data": {"values": [{}]}, "mark": {"type": "text", "text": "Y= -0.01784X + 2.482", "fontWeight": "bold", "fontSize": 17}, "encoding": {"x": {"datum": 51.05, "type": "quantitative", "title": "Average  anteroposterior length (mm)"}, "y": {"datum": 1.419, "type": "quantitative", "title": "Aspect ratio"}}},
        {"data": {"values": [{}]}, "mark": {"type": "text", "text": "C", "fontSize": 22}, "encoding": {"x": {"datum": 36.16, "type": "quantitative", "title": "Average  anteroposterior length (mm)"}, "y": {"datum": 1.339, "type": "quantitative", "title": "Aspect ratio"}}}
      ],
      "resolve": {"scale": {"shape": "independent"}, "legend": {"shape": "independent"}}
    }
  ],
  "spacing": 152,
  "bounds": "flush",
  "resolve": {"scale": {"x": "independent", "y": "independent", "shape": "independent"}, "legend": {"shape": "independent"}}
}
